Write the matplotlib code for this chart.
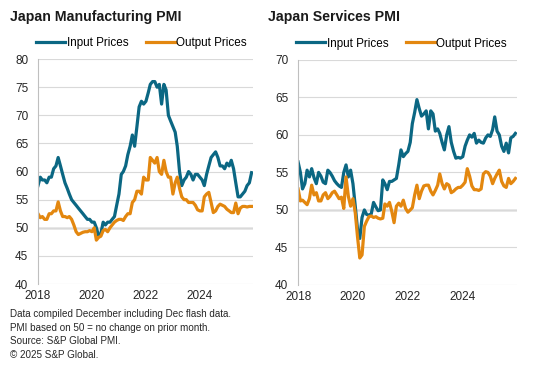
import numpy as np
import pandas as pd
import matplotlib
matplotlib.use("Agg")
import matplotlib.pyplot as plt

# monthly readings, Jan 2018 .. Dec 2025
months = pd.date_range("2018-01-01", periods=96, freq="MS")

mfg_input = [57.5, 59, 58.5, 58.5, 58, 59, 59, 60.5, 61, 62.5, 61, 59.5,
             58, 57, 56, 55, 54.5, 54, 53.5, 53, 52.5, 52, 51.5, 51.5,
             51, 51, 50, 48.5, 49, 51, 50.5, 51, 51, 51.5, 52, 54,
             56, 59.5, 60, 61, 63, 64.5, 66.5, 64.5, 68, 71.5, 72.5, 72,
             72.5, 74, 75.5, 76, 76, 75, 75.5, 72, 75.5, 74.5, 70, 69,
             68, 67, 64.5, 60, 57.5, 58.5, 59, 60, 59.5, 58.5, 59.5, 59.5,
             59, 58.5, 57.5, 59.5, 61, 62.5, 63, 63.5, 62.5, 61, 61, 60.5,
             61.5, 61, 62, 60.5, 58, 55.5, 55.5, 56, 56.5, 57.5, 58, 59.8]
mfg_output = [52.5, 51.8, 52, 51.5, 51.5, 52.5, 52.5, 53, 53, 54.6, 53, 52,
              52, 51.8, 52, 51.5, 50.5, 49.3, 48.8, 49, 49.2, 49.3, 49.3, 49.5,
              49.3, 50, 47.8, 48.3, 48.5, 49.5, 49.7, 49.3, 50, 50.5, 51, 51.3,
              51.5, 51.5, 51.3, 52, 52.5, 52.5, 54.5, 55, 56.5, 56.5, 56, 59,
              58.5, 58.5, 62.5, 62, 61.5, 62.5, 60, 59.5, 62, 60, 59, 59,
              56, 58, 59, 57, 55.5, 55, 55, 54.5, 54.5, 54.5, 54, 53.2,
              53, 53, 55.5, 56, 56.3, 54.5, 52.7, 53, 53.8, 54.2, 54, 53.8,
              53.3, 53, 52.7, 52.7, 54.4, 52.5, 53.5, 53.8, 53.8, 53.7, 53.8, 53.8]

svc_input = [56.4, 55, 52.8, 53.5, 55.3, 54.4, 55.5, 54.3, 53.5, 55, 54.5, 53.7,
             53.5, 55.3, 55, 54.5, 53.9, 53.5, 53.2, 53, 55, 56, 54.4, 55.3,
             53.5, 50.5, 47.5, 46.2, 49, 50, 49.4, 49.3, 49.5, 51, 50.4, 49.9,
             50, 54, 53.5, 52.7, 53.8, 53.8, 54, 54.2, 56, 58, 57.1, 57.5,
             57.8, 59, 61.5, 63, 64.7, 63.5, 62.5, 62.8, 63.2, 60.8, 63.2, 62.8,
             60.5, 60.8, 60.2, 59, 58, 60, 61.1, 59, 57.8, 56.9, 57, 56.9,
             57.1, 58.5, 59.3, 60, 59.7, 60.2, 58.9, 59.3, 59, 58.9, 59.6, 60,
             59.8, 60.7, 62.4, 60.5, 60, 58.5, 57.8, 58.9, 57.6, 59.6, 59.8, 60.2]
svc_output = [52.8, 51.2, 51.3, 51, 50.7, 51.5, 53.3, 52, 52.3, 51.2, 51.2, 52,
              52.3, 51.5, 51.8, 52.3, 52.5, 52, 51.5, 51.7, 50.2, 54.4, 51.8, 50.5,
              51.5, 49.6, 46.5, 43.6, 44, 47.8, 48.5, 49.1, 49.2, 49, 49.1, 48.9,
              48.8, 48.9, 50.8, 50.5, 51, 49.8, 48.3, 50.5, 50.9, 50.5, 51.3, 50.2,
              49.7, 50, 50.3, 52, 53.3, 51.5, 52.5, 53.2, 53.3, 53.3, 52.5, 52,
              52.6, 53.3, 54.8, 53.5, 52.8, 53.5, 53.3, 52.3, 52.5, 52.8, 53, 53,
              53.3, 53.7, 55.5, 54.5, 53.2, 52.7, 52.7, 52.6, 52.8, 54.8, 55.1, 55,
              54.5, 53.5, 54.2, 54.8, 55.3, 53.8, 53.2, 53, 54.2, 53.5, 53.8, 54.2]

year_ticks = ["2018", "2020", "2022", "2024"]
footnotes = ["Data compiled December including Dec flash data.",
             "PMI based on 50 = no change on prior month.",
             "Source: S&P Global PMI.",
             "\u00a9 2025 S&P Global."]

BLUE = "#0b6783"
ORANGE = "#e3870f"

plt.rcParams["font.family"] = ["Liberation Sans", "DejaVu Sans"]

fig = plt.figure(figsize=(5.39, 3.74), dpi=100)


def panel(rect, inp, outp, ylim):
    ax = fig.add_axes(rect)
    ax.plot(months, inp, color=BLUE, lw=2.3, label="Input Prices")
    ax.plot(months, outp, color=ORANGE, lw=2.3, label="Output Prices")
    ax.set_ylim(*ylim)
    ax.set_xlim(months[0], months[-1] + pd.Timedelta(days=20))
    ax.set_yticks(np.arange(ylim[0], ylim[1] + 1, 5))
    ax.yaxis.grid(True, color="#d9d9d9", lw=0.8)
    ax.axhline(50, color="#8c8c8c", lw=1.0, zorder=1)
    ax.set_xticks(pd.to_datetime([y + "-01-01" for y in year_ticks]))
    ax.set_xticklabels(year_ticks)
    for s in ["top", "right", "bottom"]:
        ax.spines[s].set_visible(False)
    ax.spines["left"].set_color("#bfbfbf")
    ax.tick_params(length=0, labelsize=8.5, colors="#262626", pad=4)
    ax.tick_params(axis="y", pad=7)
    ax.legend(loc="lower left", bbox_to_anchor=(-0.03, 1.025), ncol=2,
              frameon=False, fontsize=8.4, handlelength=2.5, handletextpad=0.1,
              columnspacing=1.5, borderaxespad=0)
    return ax


panel([0.0705, 0.2406, 0.399, 0.6014], mfg_input, mfg_output, (40, 80))
panel([0.553, 0.238, 0.406, 0.602], svc_input, svc_output, (40, 70))

fig.text(0.019, 0.955, "Japan Manufacturing PMI", fontsize=10.2,
         fontweight="bold", va="center", color="#1a1a1a")
fig.text(0.497, 0.955, "Japan Services PMI", fontsize=10.2,
         fontweight="bold", va="center", color="#1a1a1a")

for i, line in enumerate(footnotes):
    fig.text(0.019, 0.16 - i * 0.036, line, fontsize=7.1, va="center",
             color="#262626")

fig.savefig("out.png", dpi=100)
